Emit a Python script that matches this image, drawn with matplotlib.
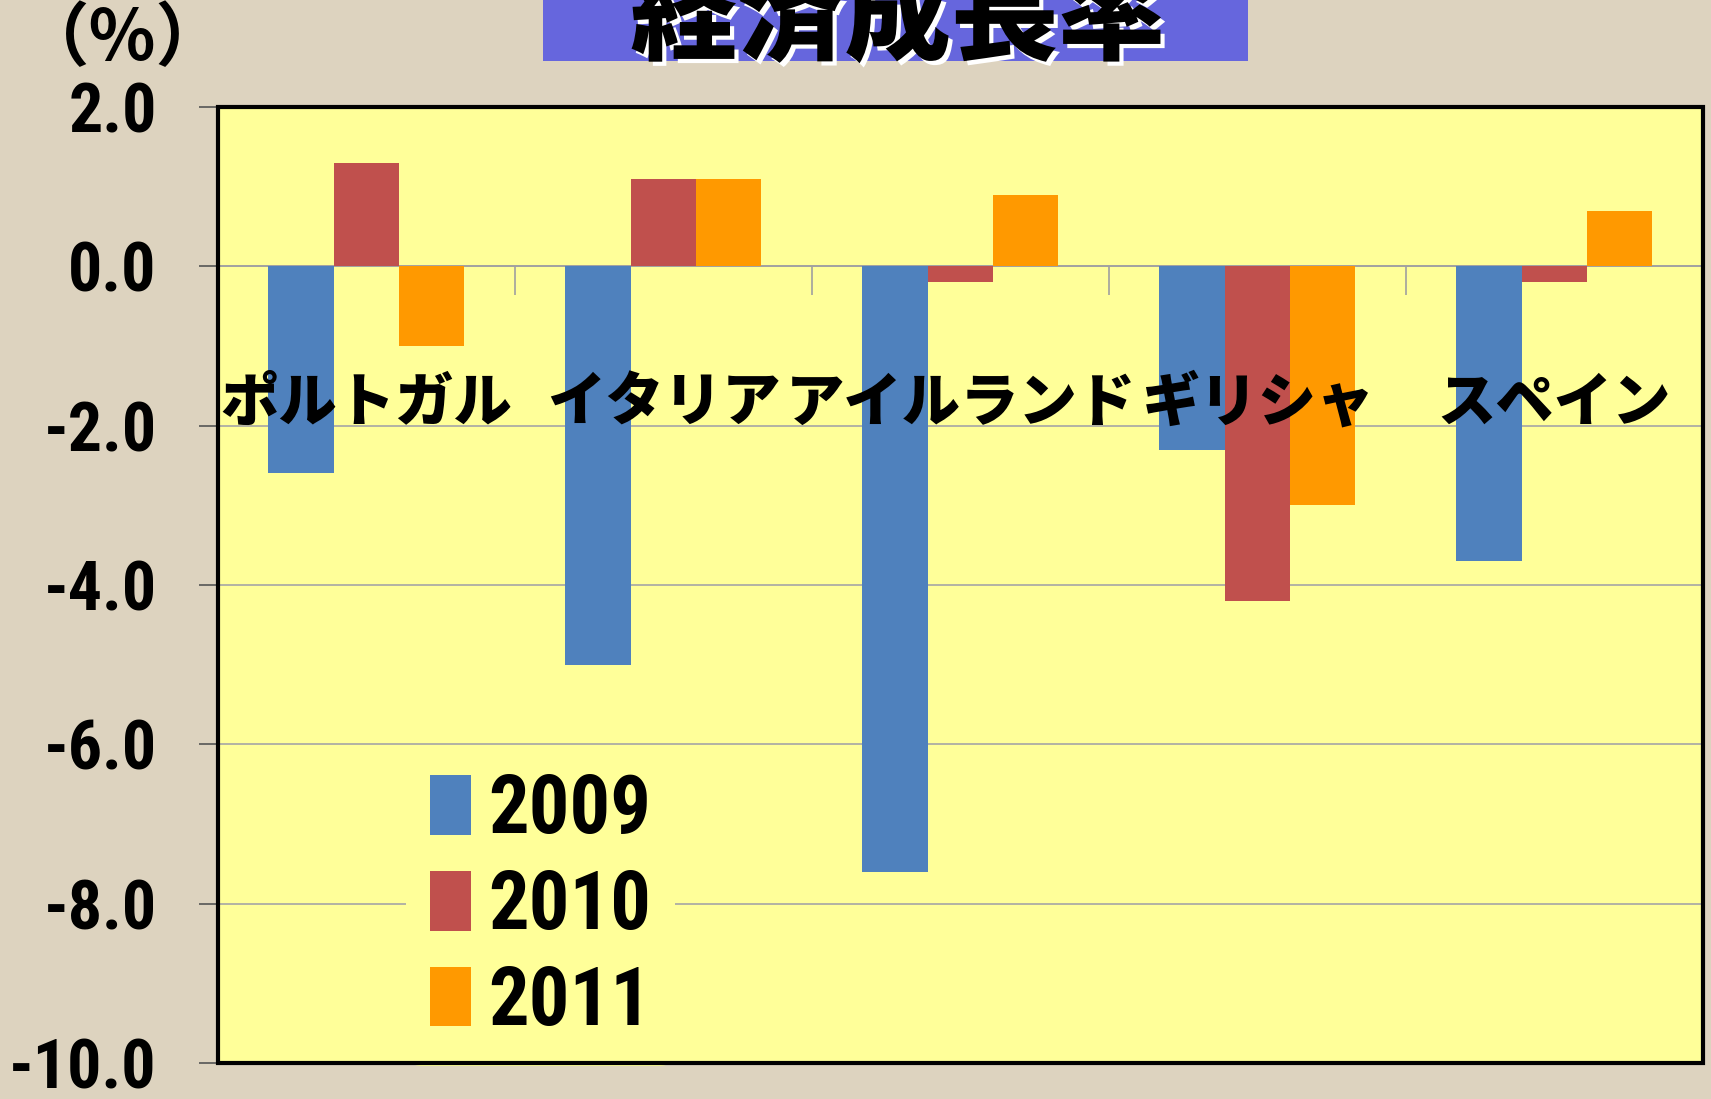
import matplotlib
matplotlib.use("Agg")
import matplotlib.pyplot as plt
import matplotlib.patches as mpatches
import matplotlib.patheffects as pe
from matplotlib import font_manager
import numpy as np

# data
countries = ["ポルトガル", "イタリア", "アイルランド", "ギリシャ", "スペイン"]
years = ["2009", "2010", "2011"]
g2009 = [-2.6, -5.0, -7.6, -2.3, -3.7]
g2010 = [1.3, 1.1, -0.2, -4.2, -0.2]
g2011 = [-1.0, 1.1, 0.9, -3.0, 0.7]
yticks = [2.0, 0.0, -2.0, -4.0, -6.0, -8.0, -10.0]
colors = ["#4F81BD", "#C0504D", "#FF9900"]

installed = {f.name for f in font_manager.fontManager.ttflist}
num_font = next((f for f in ["Liberation Sans Narrow", "Roboto Condensed", "Liberation Sans"]
                 if f in installed), "DejaVu Sans")
jp_font = ["Noto Sans CJK JP", "DejaVu Sans"]
plt.rcParams["axes.unicode_minus"] = False

fig = plt.figure(figsize=(17.11, 10.99), dpi=100, facecolor="#DDD3BF")
ax = fig.add_axes([0.1274, 0.0328, 0.8679, 0.8698])
ax.set_facecolor("#FFFF99")

x = np.arange(len(countries))
w = 0.22
for k, vals in enumerate([g2009, g2010, g2011]):
    ax.bar(x + (k - 1) * w, vals, w, color=colors[k], label=years[k], zorder=3)

ax.set_xlim(-0.5, len(countries) - 0.5)
ax.set_ylim(-10, 2)
ax.set_yticks(yticks)
ax.set_yticklabels([f"{v:.1f}" for v in yticks])
ax.yaxis.grid(True, color="#A6A6A6", lw=1.2)
ax.set_axisbelow(True)

for s in ["top", "left", "right"]:
    ax.spines[s].set_visible(False)
ax.spines["bottom"].set_position(("data", 0))
ax.spines["bottom"].set_color("#A0A0A0")
ax.spines["bottom"].set_linewidth(1.2)
ax.set_xticks(np.arange(len(countries) + 1) - 0.5)
ax.set_xticklabels([])
ax.tick_params(axis="x", direction="out", length=21, width=1.2, color="#A0A0A0")
ax.tick_params(axis="y", direction="out", length=14, width=1.2, color="#555555", pad=30)
for lab in ax.get_yticklabels():
    lab.set_fontfamily(num_font)
    lab.set_fontweight("bold")
    lab.set_fontsize(49)

ax.add_patch(mpatches.Rectangle((0, 0), 1, 1, transform=ax.transAxes, fill=False,
                                ec="black", lw=3, zorder=5, clip_on=False))

for i, name in enumerate(countries):
    ax.text(i, -1.72, name, ha="center", va="center", fontsize=42, fontweight="heavy",
            family=jp_font, zorder=6)

leg = ax.legend(loc="upper left", bbox_to_anchor=(0.1266, 0.3295),
                prop=dict(family=num_font, weight="bold", size=58),
                frameon=True, facecolor="#FFFF99", edgecolor="none", framealpha=1,
                handlelength=0.51, handleheight=0.76, handletextpad=0.21,
                labelspacing=0.22, borderpad=0.3, borderaxespad=0)
leg.set_zorder(4)

# title box
fig.patches.append(mpatches.Rectangle((0.3174, 0.9445), 0.412, 0.06, transform=fig.transFigure,
                                      fc="#6666DD", ec="none"))
fig.text(0.5248, 0.982, "経済成長率", fontsize=77, fontweight="heavy", family=jp_font,
         ha="center", va="center",
         path_effects=[pe.SimplePatchShadow(offset=(3, -3), shadow_rgbFace="white", alpha=1.0),
                       pe.Normal()])
fig.text(0.0719, 0.9636, "（%）", fontsize=50, fontweight="bold", family=jp_font,
         ha="center", va="center")

fig.savefig("out.png", dpi=100, facecolor=fig.get_facecolor())
